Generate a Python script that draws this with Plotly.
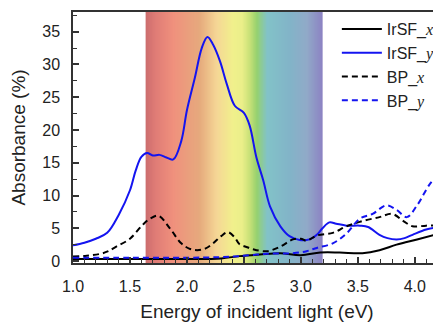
import numpy as np
import plotly.graph_objects as go

# ---- data ----
irsf_y_x = [1.0, 1.1, 1.2, 1.3, 1.4, 1.5, 1.55, 1.6, 1.65, 1.7, 1.76, 1.82, 1.88, 1.95, 2.0, 2.07, 2.13, 2.18, 2.23, 2.29, 2.35, 2.42, 2.5, 2.55, 2.61, 2.67, 2.73, 2.82, 2.9, 2.99, 3.05, 3.1, 3.14, 3.19, 3.25, 3.31, 3.4, 3.52, 3.59, 3.69, 3.76, 3.84, 3.91, 3.98, 4.1, 4.22]
irsf_y_v = [2.4, 2.8, 3.4, 4.3, 7.0, 10.8, 13.8, 15.9, 16.5, 16.1, 16.2, 15.8, 15.5, 18.3, 23.0, 28.0, 32.5, 34.2, 33.0, 30.5, 27.0, 23.7, 22.6, 20.7, 15.8, 12.3, 8.3, 5.3, 3.8, 3.2, 3.2, 3.5, 4.0, 5.0, 5.9, 5.7, 5.4, 5.4, 5.2, 4.0, 3.5, 3.3, 3.5, 4.0, 4.8, 5.2]

irsf_x_x = [1.0, 1.5, 2.0, 2.3, 2.46, 2.64, 2.82, 3.0, 3.17, 3.34, 3.54, 3.69, 3.84, 4.02, 4.22]
irsf_x_v = [0.3, 0.3, 0.3, 0.4, 0.75, 1.0, 1.2, 0.9, 1.3, 1.3, 1.2, 1.65, 2.5, 3.3, 4.2]

bp_x_x = [1.0, 1.12, 1.24, 1.31, 1.38, 1.5, 1.61, 1.68, 1.75, 1.85, 1.95, 2.02, 2.09, 2.16, 2.23, 2.3, 2.36, 2.42, 2.46, 2.53, 2.58, 2.7, 2.82, 2.93, 3.0, 3.05, 3.14, 3.28, 3.4, 3.54, 3.69, 3.8, 3.9, 3.98, 4.1, 4.22]
bp_x_v = [0.7, 0.8, 1.1, 1.5, 2.2, 3.4, 5.5, 6.5, 6.9, 5.0, 2.7, 1.9, 1.65, 1.9, 2.7, 3.8, 4.4, 3.6, 2.6, 2.1, 1.8, 1.5, 2.2, 3.3, 3.4, 3.1, 3.9, 4.3, 5.3, 6.1, 6.7, 7.2, 6.1, 5.3, 5.4, 5.4]

bp_y_x = [1.0, 1.5, 2.0, 2.3, 2.46, 2.7, 2.93, 3.05, 3.14, 3.28, 3.4, 3.52, 3.63, 3.75, 3.84, 3.93, 4.02, 4.13, 4.22]
bp_y_v = [0.5, 0.5, 0.5, 0.6, 0.75, 1.1, 1.2, 1.5, 2.0, 2.7, 4.2, 6.5, 7.2, 8.5, 7.8, 6.7, 8.5, 11.7, 13.5]

# visible-light band (eV) and its colours
band_stops = [1.64, 1.72, 1.88, 2.11, 2.26, 2.4, 2.48, 2.55, 2.61, 2.7, 2.9, 3.05, 3.19]
band_colors = ["#cd6e6e", "#e07c76", "#f0917d", "#e6aa7d", "#f5d796", "#f1f08c", "#ebef8a",
               "#c8e178", "#96d26e", "#82c3c8", "#82b4c8", "#91aac8", "#8c82c3"]

x_ticks = [1.0, 1.5, 2.0, 2.5, 3.0, 3.5, 4.0]
y_ticks = [0, 5, 10, 15, 20, 25, 30, 35]

fig = go.Figure()

# gradient band drawn as a heatmap
bx = np.linspace(band_stops[0], band_stops[-1], 300)
lo, hi = band_stops[0], band_stops[-1]
cs = [[(s - lo) / (hi - lo), c] for s, c in zip(band_stops, band_colors)]
fig.add_trace(go.Heatmap(x=bx, y=[-0.3, 38], z=[bx, bx], colorscale=cs, showscale=False,
                         hoverinfo="skip", zsmooth="best"))

sub = lambda s: f'<span style="font-family:Liberation Serif;font-style:italic">{s}</span>'

fig.add_trace(go.Scatter(x=irsf_x_x, y=irsf_x_v, mode="lines", line=dict(color="black", width=2, shape="spline"),
                         name="IrSF_" + sub("x")))
fig.add_trace(go.Scatter(x=irsf_y_x, y=irsf_y_v, mode="lines", line=dict(color="#1414f0", width=2, shape="spline"),
                         name="IrSF_" + sub("y")))
fig.add_trace(go.Scatter(x=bp_x_x, y=bp_x_v, mode="lines", line=dict(color="black", width=2, dash="6px,4px", shape="spline"),
                         name="BP_" + sub("x")))
fig.add_trace(go.Scatter(x=bp_y_x, y=bp_y_v, mode="lines", line=dict(color="#1414f0", width=2, dash="6px,4px", shape="spline"),
                         name="BP_" + sub("y")))

font = "Liberation Sans, Arial, sans-serif"
fig.update_layout(
    width=433, height=314,
    margin=dict(l=65, r=0, t=4, b=59),
    paper_bgcolor="white", plot_bgcolor="white",
    font=dict(family=font, color="#222", size=16),
    showlegend=True,
    legend=dict(x=0.717, y=1.0, xanchor="left", yanchor="top", bgcolor="rgba(0,0,0,0)",
                font=dict(size=16, color="#222"), tracegroupgap=0, itemwidth=40),
    xaxis=dict(range=[1.0, 4.23], tickvals=x_ticks, ticktext=[f"{v:.1f}" for v in x_ticks],
               ticks="inside", ticklen=6, tickwidth=1.5, tickcolor="#333", ticklabelstandoff=8,
               minor=dict(dtick=0.1, ticks="inside", ticklen=4, tickcolor="#333", tickwidth=1),
               showline=True, linecolor="#333", linewidth=1.5, mirror=True, showgrid=False, zeroline=False,
               automargin=False,
               title=dict(text="Energy of incident light (eV)", font=dict(size=19), standoff=12),
               tickfont=dict(size=16)),
    yaxis=dict(range=[-0.3, 38], tickvals=y_ticks, ticks="inside", ticklen=6, tickwidth=1.5, tickcolor="#333",
               ticklabelstandoff=8,
               minor=dict(dtick=2.5, ticks="inside", ticklen=4, tickcolor="#333", tickwidth=1),
               showline=True, linecolor="#333", linewidth=1.5, mirror=True, showgrid=False, zeroline=False,
               automargin=False,
               title=dict(text="Absorbance (%)", font=dict(size=19), standoff=14),
               tickfont=dict(size=16)),
)

fig.write_html("out.html")
